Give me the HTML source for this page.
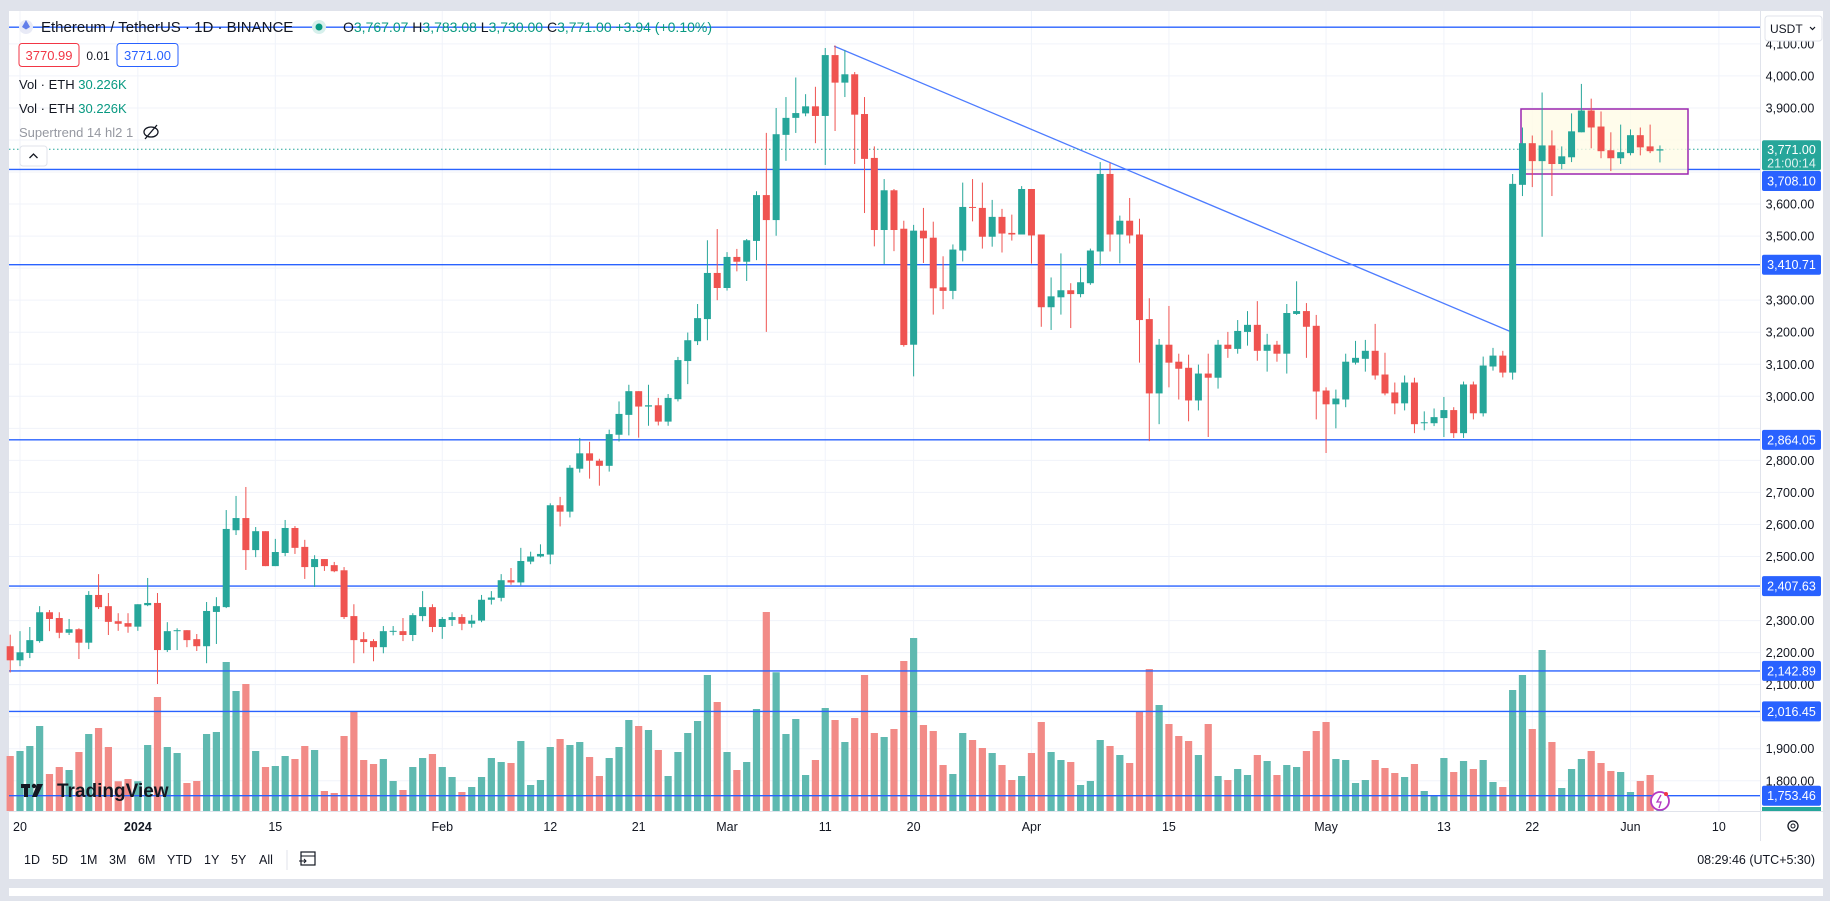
<!DOCTYPE html>
<html><head><meta charset="utf-8"><title>ETHUSDT 1D</title>
<style>
body{margin:0;width:1830px;height:896px;overflow:hidden;background:#e0e3eb;font-family:"Liberation Sans",sans-serif;}
svg text{font-family:"Liberation Sans",sans-serif;}
</style></head><body>
<svg id="chart" width="1830" height="896" xmlns="http://www.w3.org/2000/svg">
<rect x="0" y="0" width="1830" height="896" fill="#e0e3eb"/>
<rect x="9" y="11" width="1814" height="830" fill="#ffffff"/>
<rect x="9" y="841" width="1814" height="38" fill="#ffffff"/>
<rect x="9" y="888" width="1814" height="8" fill="#ffffff"/>
<line x1="1760.5" y1="11" x2="1760.5" y2="841" stroke="#e0e3eb"/>
<line x1="9" y1="811.5" x2="1823" y2="811.5" stroke="#e0e3eb"/>
<g id="grid"></g>
<g id="vol"></g>
<g id="lines"></g>
<rect x="1521" y="109" width="167" height="65" fill="#fffbe6" fill-opacity="0.8" stroke="#9c27b0" stroke-width="1.5"/>
<g id="candles"></g>
<g id="overlay"></g>
<g id="axis"></g>
</svg>
<script>
const firstDay = -1;
const opens = [2220,2176,2199,2236,2326,2308,2262,2273,2231,2380,2345,2298,2292,2281,2348,2355,2208,2267,2270,2242,2220,2327,2342,2582,2620,2520,2579,2470,2511,2589,2530,2467,2492,2473,2457,2314,2242,2236,2217,2267,2267,2255,2314,2342,2280,2302,2311,2290,2300,2365,2371,
2426,2419,2484,2500,2506,2660,2640,2774,2822,2799,2783,2880,2942,3016,2968,2972,2921,2991,3110,3172,3241,3385,3338,3435,3420,3485,3628,3550,3816,3869,3883,3905,3875,4065,3979,4005,3881,3744,3519,3643,3523,3161,3517,3495,3340,3329,3455,3591,3588,3498,3560,3510,3505,3647,3505,3278,3309,3331,3319,3353,3452,3694,3505,3548,3505,3241,3009,3161,3108,3089,2987,3071,3058,3161,3148,3201,3223,3142,3161,3133,3257,3266,3220,3018,2975,2990,3105,3117,3142,3068,3012,2978,3043,2916,2916,2932,2957,2885,3037,2947,3093,3127,3074,3660,3790,3734,3783,3725,3746,3824,3892,3842,3768,3743,3759,3815,3780,3767];
const highs = [2256,2267,2280,2345,2333,2326,2305,2276,2392,2445,2386,2323,2323,2351,2433,2386,2295,2276,2270,2258,2358,2373,2645,2689,2717,2592,2579,2555,2614,2595,2552,2504,2492,2483,2467,2351,2264,2242,2283,2283,2308,2323,2392,2351,2311,2326,2320,2318,2380,2392,2445,
2464,2527,2515,2538,2666,2686,2785,2870,2858,2805,2896,2984,3036,3016,3036,2995,3007,3123,3199,3288,3487,3522,3450,3460,3491,3640,3822,3900,3934,3995,3943,3966,4087,4095,4081,4012,3934,3780,3678,3647,3548,3535,3588,3545,3437,3474,3667,3678,3667,3613,3585,3567,3656,3647,3505,3371,3446,3353,3402,3461,3731,3728,3564,3619,3554,3306,3179,3282,3133,3130,3099,3133,3176,3201,3238,3266,3297,3195,3173,3288,3359,3291,3254,3028,3021,3133,3173,3176,3226,3136,3043,3065,3058,2953,2962,2998,2966,3046,3046,3124,3151,3142,3694,3839,3814,3948,3830,3780,3883,3975,3929,3889,3824,3848,3833,3839,3848,3783];
const lows = [2138,2158,2183,2231,2267,2245,2255,2180,2211,2336,2255,2268,2262,2268,2345,2102,2202,2208,2217,2205,2167,2227,2339,2567,2458,2498,2470,2470,2501,2508,2430,2405,2455,2451,2305,2167,2198,2173,2198,2254,2236,2236,2298,2264,2243,2283,2270,2278,2295,2350,2360,
2412,2410,2476,2497,2476,2594,2622,2762,2743,2721,2765,2859,2878,2871,2908,2909,2908,2984,3038,3160,3175,3300,3330,3390,3360,3425,3201,3501,3735,3822,3874,3790,3722,3828,3934,3725,3572,3468,3413,3453,3155,3062,3416,3255,3272,3303,3421,3546,3461,3467,3449,3486,3505,3414,3217,3207,3255,3213,3309,3348,3408,3452,3415,3477,3105,2860,2913,3028,2990,2922,2956,2873,3024,3120,3133,3158,3111,3077,3108,3071,3254,3120,2928,2823,2900,2966,3099,3077,3052,3003,2944,2956,2885,2894,2907,2873,2870,2870,2928,2937,3080,3059,3052,3625,3653,3498,3625,3709,3731,3824,3774,3743,3703,3725,3752,3752,3759,3730];
const closes = [2176,2201,2239,2326,2305,2262,2273,2231,2380,2342,2296,2290,2281,2351,2355,2208,2267,2270,2239,2220,2330,2345,2586,2620,2520,2579,2470,2514,2589,2527,2467,2492,2470,2454,2311,2239,2233,2217,2267,2268,2255,2317,2342,2280,2305,2311,2290,2300,2365,2372,2426,
2419,2486,2500,2508,2660,2640,2777,2822,2799,2783,2882,2945,3016,2968,2972,2921,2995,3113,3175,3244,3385,3338,3435,3420,3487,3628,3550,3818,3869,3884,3905,3875,4065,3979,4005,3879,3741,3519,3643,3519,3160,3517,3493,3337,3329,3458,3591,3589,3498,3560,3508,3505,3647,3502,3278,3312,3331,3319,3356,3455,3694,3505,3548,3502,3238,3009,3161,3105,3086,2987,3071,3058,3161,3148,3204,3223,3142,3161,3133,3260,3266,3217,3015,2975,2993,3108,3120,3142,3065,3009,2978,3043,2913,2919,2935,2957,2885,3037,2947,3096,3127,3074,3663,3790,3734,3783,3725,3749,3827,3892,3839,3765,3743,3762,3815,3777,3765,3771];
const volumes = [220,240,260,340,148,176,164,236,308,332,256,119,128,119,264,456,256,232,112,120,308,316,596,480,508,240,176,180,220,208,260,244,80,72,300,400,204,188,208,120,84,176,212,228,176,136,76,96,136,212,196,192,280,104,124,256,288,264,276,216,140,212,256,364,340,324,244,140,236,312,360,544,436,236,164,196,408,796,555,308,368,144,204,412,364,276,372,544,312,296,328,600,692,
344,320,184,148,312,284,252,232,184,124,140,232,356,236,204,196,104,120,284,260,224,192,400,568,424,348,300,280,224,348,140,124,168,144,224,200,144,184,176,240,320,356,208,204,112,124,204,172,152,136,188,80,60,212,156,200,168,204,116,96,484,544,328,644,276,92,168,208,240,192,160,156,76,120,144,8];
const levels = [4152, 3708.10, 3410.71, 2864.05, 2407.63, 2142.89, 2016.45, 1753.46];
const levelLabels = [null, "3,708.10", "3,410.71", "2,864.05", "2,407.63", "2,142.89", "2,016.45", "1,753.46"];
const trendDays = [82.9, 151.7];
const trendPrices = [4093, 3203];
const lastPrice = 3771.00;
const priceTicks = [4100,4000,3900,3800,3700,3600,3500,3400,3300,3200,3100,3000,2900,2800,2700,2600,2500,2400,2300,2200,2100,2000,1900,1800];
const timeTickDays = [0,12,26,43,54,63,72,82,91,103,117,133,145,154,164,173];
const timeTickLabels = ["20","2024","15","Feb","12","21","Mar","11","20","Apr","15","May","13","22","Jun","10"];

const NS="http://www.w3.org/2000/svg";
const X = d => 20 + d*9.82;
const Y = p => 75.9 + (4000-p)*0.3204;
const VOLBASE = 811, VOLK = 0.25;
function mk(tag, attrs, parent){const e=document.createElementNS(NS,tag);for(const k in attrs)e.setAttribute(k,attrs[k]);parent.appendChild(e);return e;}
const gGrid=document.getElementById('grid'),gVol=document.getElementById('vol'),gLines=document.getElementById('lines'),gC=document.getElementById('candles'),gO=document.getElementById('overlay'),gA=document.getElementById('axis');
const GREEN="#26a69a",RED="#ef5350";
function fmt(p){return p.toLocaleString('en-US',{minimumFractionDigits:2,maximumFractionDigits:2});}

// grid
priceTicks.forEach(p=>{
  const l=mk('line',{x1:9,x2:1760,y1:Y(p),y2:Y(p),stroke:'#f0f3fa','stroke-width':1},gGrid);
  
  
});
timeTickDays.forEach(d=>{
  const l=mk('line',{x1:X(d),x2:X(d),y1:11,y2:811,stroke:'#f0f3fa','stroke-width':1},gGrid);
  
  
});

// volume
volumes.forEach((v,i)=>{
  const d=firstDay+i, up=closes[i]>=opens[i], h=Math.max(1,v*VOLK);
  const r=mk('rect',{x:X(d)-3.6,y:VOLBASE-h,width:7.2,height:h,fill:up?'#5fb9b0':'#f28b87'},gVol);
  
  
});

// horizontal levels
levels.forEach(p=>{
  const l=mk('line',{x1:9,x2:1760,y1:Y(p),y2:Y(p),stroke:'#2962ff','stroke-width':1.4},gLines);
  
  
});
// trendline
{
  const l=mk('line',{x1:X(trendDays[0]),y1:Y(trendPrices[0]),x2:X(trendDays[1]),y2:Y(trendPrices[1]),stroke:'#4d7cff','stroke-width':1.3},gLines);
  
  
}
// last price dotted line
{
  const l=mk('line',{x1:9,x2:1760,y1:Y(lastPrice),y2:Y(lastPrice),stroke:GREEN,'stroke-width':1,'stroke-dasharray':'1.5 2.5'},gLines);
  
  
}

// candles
opens.forEach((o,i)=>{
  const d=firstDay+i, c=closes[i], up=c>=o, col=up?GREEN:RED, x=X(d);
  const w=mk('line',{x1:x,x2:x,y1:Y(highs[i]),y2:Y(lows[i]),stroke:col,'stroke-width':1},gC);
  
  
  const top=Y(Math.max(o,c)), bh=Math.max(1,Y(Math.min(o,c))-top);
  const b=mk('rect',{x:x-3.5,y:top,width:7,height:bh,fill:col},gC);
  
  
});

// price axis ticks
const blocked=[Y(lastPrice)-10,Y(lastPrice)+42];
levels.slice(1).forEach(p=>blocked.push(Y(p)));
priceTicks.forEach(p=>{
  const y=Y(p);
  if(y<38)return;
  if(y>=blocked[0]&&y<=blocked[1])return;
  if(levels.slice(1).some(lp=>Math.abs(Y(lp)-y)<13))return;
  const t=mk('text',{x:1790,y:y+4.5,'text-anchor':'middle','font-size':12.5,fill:'#131722'},gA);
  t.textContent=fmt(p);
  
  
});
// level labels
levels.forEach((p,i)=>{
  if(!levelLabels[i])return;
  let y=Y(p);
  if(i===1)y=181;
  const r=mk('rect',{x:1762,y:y-10,width:59,height:20,rx:2,fill:'#2962ff'},gA);
  
  
  const t=mk('text',{x:1791.5,y:y+4.5,'text-anchor':'middle','font-size':12.5,fill:'#fff'},gA);
  t.textContent=levelLabels[i];
  
  
});
// last price tag
{
  const y=Y(lastPrice);
  const r=mk('rect',{x:1762,y:y-9,width:59,height:30,rx:2,fill:GREEN},gA);
  
  
  const t=mk('text',{x:1791.5,y:y+4.5,'text-anchor':'middle','font-size':12.5,fill:'#fff'},gA);
  t.textContent=fmt(lastPrice);
  
  
  const t2=mk('text',{x:1791.5,y:y+18,'text-anchor':'middle','font-size':12.5,fill:'#e0f2f1'},gA);
  t2.textContent='21:00:14';
  
  
}
// volume tag
{
  const r=mk('rect',{x:1762,y:807,width:59,height:4,fill:GREEN},gA);
  
  
}
// time ticks
timeTickDays.forEach((d,i)=>{
  const t=mk('text',{x:X(d),y:831,'text-anchor':'middle','font-size':12.5,fill:'#131722','font-weight':timeTickLabels[i]==='2024'?'bold':'normal'},gA);
  t.textContent=timeTickLabels[i];
  
  
});
</script>
<svg style="position:absolute;left:0;top:0" width="1830" height="896" xmlns="http://www.w3.org/2000/svg">
<g>
<circle cx="26" cy="27" r="7" fill="#e8eaf6"/>
<path d="M26 20 L30 27 L26 29.5 L22 27 Z" fill="#627eea"/>
<text x="41" y="32" font-size="15" fill="#131722">Ethereum / TetherUS · 1D · BINANCE</text>
<circle cx="319" cy="27" r="7" fill="#d7f0ec"/><circle cx="319" cy="27" r="3.5" fill="#089981"/>
<text x="343" y="32" font-size="14" fill="#089981"><tspan fill="#131722">O</tspan>3,767.07 <tspan fill="#131722">H</tspan>3,783.08 <tspan fill="#131722">L</tspan>3,730.00 <tspan fill="#131722">C</tspan>3,771.00 +3.94 (+0.10%)</text>
</g>
<rect x="19" y="43.5" width="60" height="23" rx="3" fill="#fff" stroke="#f23645"/>
<text x="49" y="60" font-size="13" fill="#f23645" text-anchor="middle">3770.99</text>
<text x="98" y="60" font-size="12" fill="#131722" text-anchor="middle">0.01</text>
<rect x="117" y="43.5" width="61" height="23" rx="3" fill="#fff" stroke="#2962ff"/>
<text x="147.5" y="60" font-size="13" fill="#2962ff" text-anchor="middle">3771.00</text>
<text x="19" y="89" font-size="13" fill="#131722">Vol · ETH <tspan fill="#089981">30.226K</tspan></text>
<text x="19" y="113" font-size="13" fill="#131722">Vol · ETH <tspan fill="#089981">30.226K</tspan></text>
<text x="19" y="137" font-size="13" fill="#9598a1">Supertrend 14 hl2 1</text>
<g><ellipse cx="151" cy="132" rx="7" ry="5" fill="none" stroke="#131722" stroke-width="1.3"/><line x1="145" y1="139" x2="157" y2="125" stroke="#131722" stroke-width="1.3"/></g>
<rect x="20" y="146" width="27" height="20" rx="3" fill="#fff" stroke="#e0e3eb"/>
<path d="M29.5 158 L33.5 154 L37.5 158" fill="none" stroke="#131722" stroke-width="1.3"/>
<rect x="1765" y="16" width="57" height="25" rx="3" fill="#fff" stroke="#e0e3eb"/>
<text x="1770" y="33" font-size="12" fill="#131722">USDT</text>
<path d="M1810 27 L1812.5 29.5 L1815 27" fill="none" stroke="#131722" stroke-width="1.2"/>
<g>
<rect x="21" y="784" width="9" height="4" fill="#131722"/><rect x="24" y="784" width="4" height="13" fill="#131722"/><circle cx="34" cy="786" r="2.2" fill="#131722"/><path d="M37 784 L43 784 L37 797 L32 797 Z" fill="#131722"/>
<text x="57" y="797" font-size="19" font-weight="bold" fill="#131722">TradingView</text>
</g>
<g><circle cx="1660" cy="801" r="9" fill="#fff" stroke="#b43ac3" stroke-width="1.8"/><path d="M1661 795 L1657 802 L1661 802 L1659 808" fill="none" stroke="#b43ac3" stroke-width="1.3"/><circle cx="1666" cy="794" r="2" fill="#f23645"/></g>
<g><circle cx="1793" cy="826" r="5" fill="none" stroke="#131722" stroke-width="1.3"/><circle cx="1793" cy="826" r="2" fill="none" stroke="#131722"/></g>
<g font-size="12.5" fill="#131722">
<text x="24" y="864">1D</text><text x="52" y="864">5D</text><text x="80" y="864">1M</text><text x="109" y="864">3M</text><text x="138" y="864">6M</text><text x="167" y="864">YTD</text><text x="204" y="864">1Y</text><text x="231" y="864">5Y</text><text x="259" y="864">All</text>
</g>
<line x1="287" y1="850" x2="287" y2="870" stroke="#e0e3eb"/>
<g><rect x="301" y="852" width="14" height="13" fill="none" stroke="#131722" stroke-width="1.2"/><line x1="301" y1="856" x2="315" y2="856" stroke="#131722"/><path d="M299 861 L306 861 M304 859 L306 861 L304 863" fill="none" stroke="#131722"/></g>
<text x="1815" y="864" font-size="12.5" fill="#131722" text-anchor="end">08:29:46 (UTC+5:30)</text>
</svg>
</body></html>
